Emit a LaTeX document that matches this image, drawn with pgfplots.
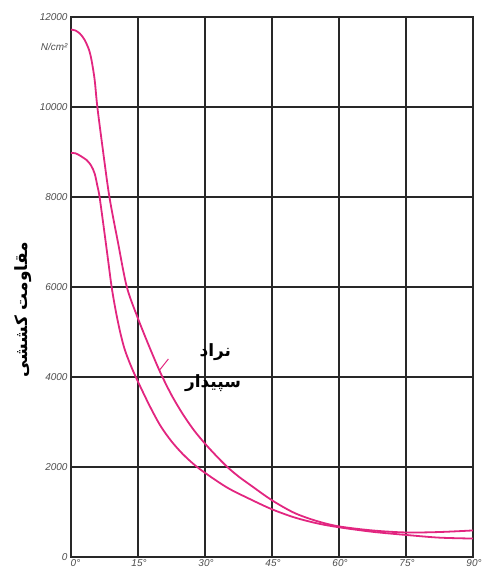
\documentclass[border=0pt]{standalone}
\usepackage{fontspec}
\setmainfont{Liberation Sans}
\newfontfamily\arabicfont[Script=Arabic]{DejaVu Sans}
\TeXXeTstate=1
\usepackage{pgfplots}
\pgfplotsset{compat=1.18}
\definecolor{curvecol}{RGB}{226,38,128}
\definecolor{gridcol}{RGB}{40,40,40}

% نراد (upper curve)
\pgfplotstableread{
deg val
0 11720
1 11700
2 11630
3 11500
4 11280
4.6 11040
5.3 10600
5.9 10000
7.2 9000
8.6 8000
10.5 7000
12.5 6000
15 5300
17.5 4680
20 4100
22.5 3600
25 3180
27.5 2820
30 2520
32.5 2250
35 2000
37.5 1790
40 1610
45 1260
50 980
55 800
60 680
67.5 590
75 545
82.5 555
90 590
}\nrad

% سپیدار (lower curve)
\pgfplotstableread{
deg val
0 8980
1 8970
2 8920
3.5 8820
4.5 8700
5.3 8520
5.9 8250
6.4 8000
7.5 7200
8.3 6600
9.1 6000
10 5480
11 5000
12 4620
13.2 4300
14.6 3980
17.5 3380
20 2920
22.5 2570
25 2290
27.5 2060
30 1870
35 1540
40 1290
45 1060
50 880
55 750
60 660
67.5 560
75 490
82.5 430
90 410
}\sepidar

\begin{document}
\begin{tikzpicture}[x=1bp,y=1bp]
\begin{axis}[
    scale only axis,
    width=402bp, height=540bp,
    xmin=0, xmax=90, ymin=0, ymax=12000,
    xtick={0,15,...,90},
    xticklabels={\hspace{7bp}0°,15°,30°,45°,60°,75°,90°},
    ytick={0,2000,...,12000},
    yticklabels={0,2000,4000,6000,8000,10000,12000},
    scaled y ticks=false,
    ticklabel style={font=\fontsize{10}{11}\selectfont\itshape, text=black!70},
    xticklabel style={xshift=1bp, yshift=1bp},
    major tick length=0pt,
    grid=major,
    grid style={gridcol, line width=1.7bp},
    axis line style={gridcol, line width=1.7bp},
    clip=false,
]
\addplot[curvecol, line width=1.8bp, smooth] table[x=deg, y=val] {\nrad};
\addplot[curvecol, line width=1.8bp, smooth] table[x=deg, y=val] {\sepidar};

\draw[curvecol, line width=1bp] (axis cs:19.8,4150) -- (axis cs:21.8,4400);

\node[font=\arabicfont\bfseries\fontsize{17}{19}\selectfont] at (axis cs:32.3,4560) {\beginR نراد\endR};
\node[font=\arabicfont\bfseries\fontsize{17}{19}\selectfont] at (axis cs:31.8,3870) {\beginR سپیدار\endR};
\node[font=\arabicfont\bfseries\fontsize{17}{19}\selectfont, rotate=90] at ([xshift=-48bp]axis cs:0,5490) {\beginR مقاومت کششی\endR};
\node[anchor=east, font=\fontsize{10}{11}\selectfont\itshape, text=black!70] at (axis cs:0,11330) {N/cm²};
\end{axis}
\pgfresetboundingbox
\path ([xshift=-71bp,yshift=-24bp]current axis.south west) rectangle ([xshift=9bp,yshift=17bp]current axis.north east);
\end{tikzpicture}
\end{document}
